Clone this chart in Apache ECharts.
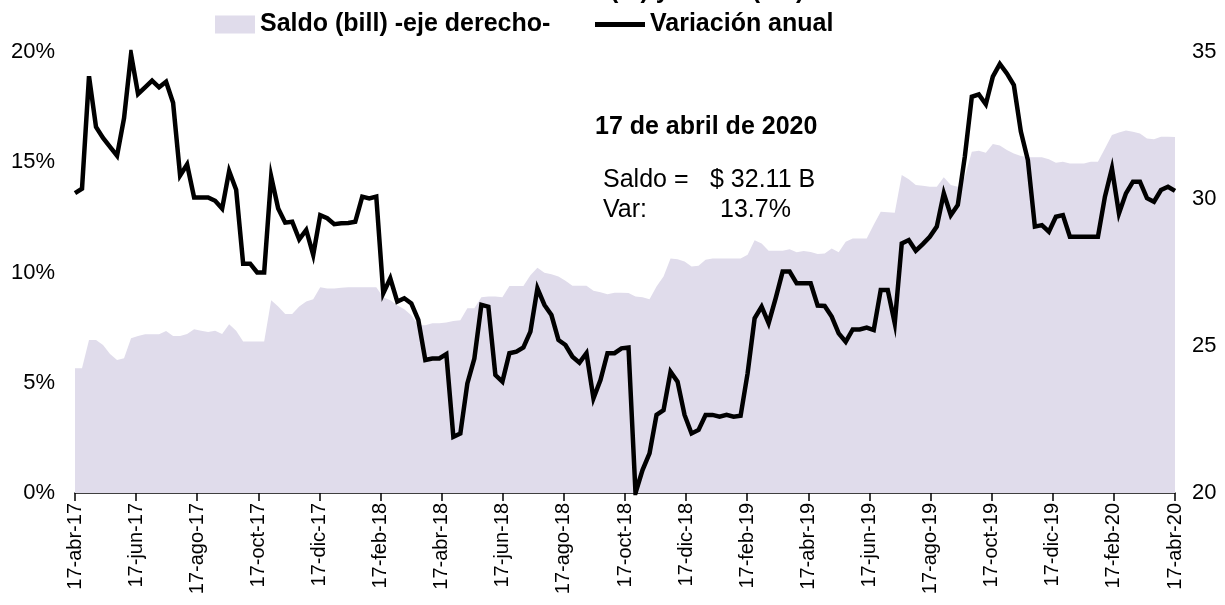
<!DOCTYPE html>
<html>
<head>
<meta charset="utf-8">
<script src="https://cdn.jsdelivr.net/npm/echarts@6/dist/echarts.min.js"></script>
<style>
    html, body { margin: 0; padding: 0; background: #fff; }
    #chart { width: 1225px; height: 605px; }
</style>
</head>
<body>
<div id="chart"></div>
<script>
    // etiquetas del eje x (cada dos meses)
    var tickLabels = ['17-abr-17', '17-jun-17', '17-ago-17', '17-oct-17', '17-dic-17', '17-feb-18',
        '17-abr-18', '17-jun-18', '17-ago-18', '17-oct-18', '17-dic-18', '17-feb-19',
        '17-abr-19', '17-jun-19', '17-ago-19', '17-oct-19', '17-dic-19', '17-feb-20', '17-abr-20'];

    // saldo semanal en billones (eje derecho)
    var saldo = [
        24.24, 24.24, 25.2, 25.2, 25.03, 24.73, 24.52, 24.58, 25.26, 25.34,
        25.4, 25.4, 25.4, 25.51, 25.34, 25.34, 25.41, 25.57, 25.52, 25.48,
        25.52, 25.41, 25.74, 25.52, 25.15, 25.15, 25.15, 25.15, 26.56, 26.34,
        26.09, 26.09, 26.34, 26.51, 26.59, 27.0, 26.96, 26.96, 26.98, 27.0,
        27.0, 27.0, 27.0, 27.0, 26.66, 26.56, 26.39, 26.25, 26.05, 25.71,
        25.71, 25.77, 25.77, 25.8, 25.85, 25.88, 26.28, 26.28, 26.66, 26.68,
        26.68, 26.66, 27.04, 27.04, 27.04, 27.41, 27.66, 27.49, 27.44, 27.36,
        27.22, 27.05, 27.05, 27.05, 26.88, 26.83, 26.76, 26.81, 26.81, 26.8,
        26.68, 26.66, 26.59, 27.02, 27.36, 27.98, 27.95, 27.87, 27.7, 27.73,
        27.93, 27.98, 27.98, 27.98, 27.98, 27.98, 28.1, 28.6, 28.49, 28.24,
        28.24, 28.24, 28.29, 28.19, 28.23, 28.2, 28.13, 28.15, 28.32, 28.19,
        28.55, 28.66, 28.66, 28.66, 29.12, 29.57, 29.55, 29.53, 30.82, 30.67,
        30.48, 30.45, 30.42, 30.42, 30.74, 30.48, 30.42, 30.76, 31.61, 31.64,
        31.57, 31.87, 31.82, 31.67, 31.55, 31.46, 31.42, 31.42, 31.42, 31.35,
        31.23, 31.27, 31.21, 31.21, 31.21, 31.27, 31.27, 31.72, 32.18, 32.26,
        32.33, 32.29, 32.23, 32.06, 32.03, 32.12, 32.12, 32.11
    ];

    // variacion anual en % (eje izquierdo)
    var variacion = [
        13.6, 13.8, 18.9, 16.6, 16.1, 15.7, 15.3, 17.0, 19.9, 18.1,
        18.4, 18.7, 18.4, 18.65, 17.7, 14.4, 14.9, 13.4, 13.4, 13.4,
        13.25, 12.9, 14.6, 13.75, 10.4, 10.4, 10.0, 10.0, 14.35, 12.9,
        12.26, 12.3, 11.5, 11.93, 10.8, 12.6, 12.46, 12.19, 12.23, 12.25,
        12.3, 13.44, 13.36, 13.44, 9.06, 9.74, 8.68, 8.83, 8.6, 7.85,
        6.03, 6.1, 6.1, 6.3, 2.55, 2.7, 4.97, 6.1, 8.53, 8.45,
        5.35, 5.05, 6.34, 6.41, 6.6, 7.32, 9.28, 8.53, 8.07, 6.94,
        6.71, 6.18, 5.91, 6.34, 4.29, 5.12, 6.34, 6.34, 6.56, 6.6,
        0.0, 1.04, 1.8, 3.54, 3.76, 5.5, 5.05, 3.54, 2.7, 2.86,
        3.54, 3.54, 3.46, 3.54, 3.46, 3.5, 5.43, 7.92, 8.45, 7.7,
        8.83, 10.04, 10.04, 9.51, 9.51, 9.51, 8.5, 8.48, 8.0, 7.24,
        6.86, 7.42, 7.42, 7.5, 7.39, 9.21, 9.21, 7.7, 11.32, 11.47,
        10.99, 11.29, 11.62, 12.08, 13.59, 12.6, 13.06, 15.25, 17.97, 18.08,
        17.63, 18.88, 19.46, 19.03, 18.5, 16.39, 15.1, 12.08, 12.15, 11.85,
        12.53, 12.6, 11.62, 11.62, 11.62, 11.62, 11.62, 13.44, 14.72, 12.68,
        13.59, 14.12, 14.12, 13.37, 13.21, 13.74, 13.89, 13.7
    ];

    var FONT = '"Liberation Sans", Arial, sans-serif';
    var AREA_COLOR = '#E0DCEB';

    // fechas semanales (viernes) para el eje de categorias oculto
    var semanas = [];
    (function () {
        var d = new Date(Date.UTC(2017, 3, 14));
        for (var i = 0; i < variacion.length; i++) {
            semanas.push(d.toISOString().slice(0, 10));
            d.setUTCDate(d.getUTCDate() + 7);
        }
    })();

    var chart = echarts.init(document.getElementById('chart'), null, {renderer: 'canvas'});

    var legendText = {fontFamily: FONT, fontSize: 25, fontWeight: 'bold', color: '#000'};

    var option = {
        animation: false,
        backgroundColor: '#fff',
        textStyle: {fontFamily: FONT, color: '#000'},
        grid: {left: 75, right: 50, top: 52, bottom: 112},
        legend: [{
            data: [{name: 'Saldo (bill) -eje derecho-', icon: 'rect', itemStyle: {color: AREA_COLOR}}],
            left: 210, top: 7,
            itemWidth: 40, itemHeight: 18,
            textStyle: legendText
        }, {
            data: [{name: 'Variación anual', icon: 'rect', itemStyle: {color: '#000'}}],
            left: 590, top: 7,
            itemWidth: 50, itemHeight: 5,
            textStyle: legendText
        }],
        xAxis: [{
            type: 'category',
            data: semanas,
            boundaryGap: false,
            show: false
        }, {
            type: 'value',
            position: 'bottom',
            min: 0,
            max: tickLabels.length - 1,
            interval: 1,
            axisLine: {show: true, lineStyle: {color: '#000', width: 1.5}},
            axisTick: {show: true, length: 8, lineStyle: {color: '#000', width: 1.5}},
            splitLine: {show: false},
            axisLabel: {
                rotate: 90,
                margin: 10,
                fontSize: 20,
                fontFamily: FONT,
                color: '#000',
                formatter: function (v) {
                    return tickLabels[Math.round(v)];
                }
            }
        }],
        yAxis: [{
            type: 'value',
            min: 0, max: 20, interval: 5,
            axisLine: {show: false},
            axisTick: {show: false},
            splitLine: {show: false},
            axisLabel: {formatter: '{value}%', fontSize: 22, margin: 20, color: '#000', fontFamily: FONT}
        }, {
            type: 'value',
            position: 'right',
            min: 20, max: 35, interval: 5,
            axisLine: {show: false},
            axisTick: {show: false},
            splitLine: {show: false},
            axisLabel: {fontSize: 22, margin: 17, color: '#000', fontFamily: FONT}
        }],
        series: [{
            name: 'Saldo (bill) -eje derecho-',
            type: 'line',
            xAxisIndex: 0,
            yAxisIndex: 1,
            data: saldo,
            symbol: 'none',
            lineStyle: {width: 0},
            itemStyle: {color: AREA_COLOR},
            areaStyle: {color: AREA_COLOR, opacity: 1},
            z: 1
        }, {
            name: 'Variación anual',
            type: 'line',
            xAxisIndex: 0,
            yAxisIndex: 0,
            data: variacion,
            symbol: 'none',
            lineStyle: {color: '#000', width: 4.5, join: 'miter'},
            itemStyle: {color: '#000'},
            z: 3
        }],
        graphic: [{
            // titulo recortado por el borde superior
            type: 'text', x: 612, y: -21, z: 10,
            style: {text: 'Variación anual (%) y Saldo (bill)', font: 'bold 25px ' + FONT, fill: '#000', align: 'center'}
        }, {
            type: 'text', x: 595, y: 115, z: 10,
            style: {text: '17 de abril de 2020', font: 'bold 25px ' + FONT, fill: '#000'}
        }, {
            type: 'text', x: 603, y: 168, z: 10,
            style: {text: 'Saldo =', font: '25px ' + FONT, fill: '#000'}
        }, {
            type: 'text', x: 710, y: 168, z: 10,
            style: {text: '$ 32.11 B', font: '25px ' + FONT, fill: '#000'}
        }, {
            type: 'text', x: 603, y: 198, z: 10,
            style: {text: 'Var:', font: '25px ' + FONT, fill: '#000'}
        }, {
            type: 'text', x: 720, y: 198, z: 10,
            style: {text: '13.7%', font: '25px ' + FONT, fill: '#000'}
        }]
    };

    chart.setOption(option);
</script>
</body>
</html>
